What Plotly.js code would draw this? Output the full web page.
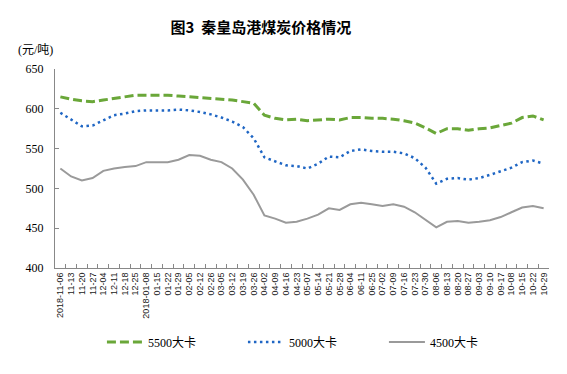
<!DOCTYPE html>
<html>
<head>
<meta charset="utf-8">
<script src="https://cdn.plot.ly/plotly-3.0.1.min.js"></script>
<style>html,body{margin:0;padding:0;background:#fff;}#chart{width:567px;height:374px;}</style>
</head>
<body>
<div id="chart"></div>
<script>
var dates = ["2018-11-06","11-13","11-20","11-27","12-04","12-11","12-18","12-25","2018-01-08","01-15","01-22","01-29","02-05","02-12","02-26","03-05","03-12","03-19","03-26","04-02","04-09","04-16","04-23","05-07","05-14","05-21","05-28","06-04","06-11","06-25","07-02","07-09","07-16","07-23","07-30","08-06","08-13","08-20","08-27","09-03","09-10","09-17","10-08","10-15","10-22","10-29"];
var s5500 = [615,612,610,609,611,613,615,617,617,617,617,616,615,614,613,612,611,609,607,592,588,586,587,585,586,587,586,589,589,588,588,587,585,582,576,569,575,575,573,575,576,579,582,589,591,586];
var s5000 = [595,586,578,579,585,592,594,597,598,598,598,599,598,596,593,589,584,577,563,539,534,529,528,525,531,540,539,547,549,547,546,546,544,538,526,506,512,513,511,513,517,522,526,533,535,531];
var s4500 = [525,515,510,513,522,525,527,528,533,533,533,536,542,541,536,533,525,511,492,466,462,457,458,462,467,475,473,480,482,480,478,480,477,470,460,451,458,459,457,458,460,464,470,476,478,475];
var names = ["5500大卡","5000大卡","4500大卡"];

var traces = [
  {x: dates, y: s5500, name: names[0], type: "scatter", mode: "lines",
   line: {color: "#6aa739", width: 3, dash: "9px,4px"}},
  {x: dates, y: s5000, name: names[1], type: "scatter", mode: "lines",
   line: {color: "#1f66c4", width: 2.5, dash: "2.5px,3.5px"}},
  {x: dates, y: s4500, name: names[2], type: "scatter", mode: "lines",
   line: {color: "#9a9a9a", width: 2}}
];

var layout = {
  width: 567, height: 374,
  margin: {l: 55, r: 18, t: 69, b: 106},
  paper_bgcolor: "#fff", plot_bgcolor: "#fff",
  title: {text: "图3  秦皇岛港煤炭价格情况", x: 0.46, xanchor: "center", y: 0.925, yanchor: "middle",
          font: {family: "Noto Sans CJK SC", size: 15, color: "#000", weight: 600}},
  xaxis: {
    type: "category", tickson: "boundaries", ticks: "inside", ticklen: 4, tickcolor: "#888",
    tickmode: "linear", tick0: 0, dtick: 1,
    showline: true, linecolor: "#888", linewidth: 1, showgrid: false, zeroline: false,
    tickangle: -90, tickfont: {family: "Liberation Sans", size: 9, color: "#222"},
    range: [-0.5, 45.5]
  },
  yaxis: {
    range: [400, 650], dtick: 50, ticks: "inside", ticklen: 4, tickcolor: "#888",
    showline: true, linecolor: "#888", linewidth: 1, showgrid: false, zeroline: false,
    tickfont: {family: "Liberation Serif", size: 12, color: "#000"}, ticklabelstandoff: 8
  },
  showlegend: true,
  legend: {orientation: "h", x: 0.095, xanchor: "left", y: -0.372, yanchor: "middle",
           font: {family: "Liberation Serif, Noto Sans CJK SC", size: 12, color: "#000"},
           entrywidth: 90, entrywidthmode: "pixels", itemwidth: 36, tracegroupgap: 0},
  annotations: [{text: "(元/吨)", xref: "paper", yref: "paper", x: -0.079, xanchor: "left",
                 y: 1.0 + (69 - 50) / 199, yanchor: "middle", showarrow: false,
                 font: {family: "Liberation Serif, Noto Sans CJK SC", size: 12, color: "#000"}}]
};

Plotly.newPlot("chart", traces, layout, {displayModeBar: false, staticPlot: true});
</script>
</body>
</html>
